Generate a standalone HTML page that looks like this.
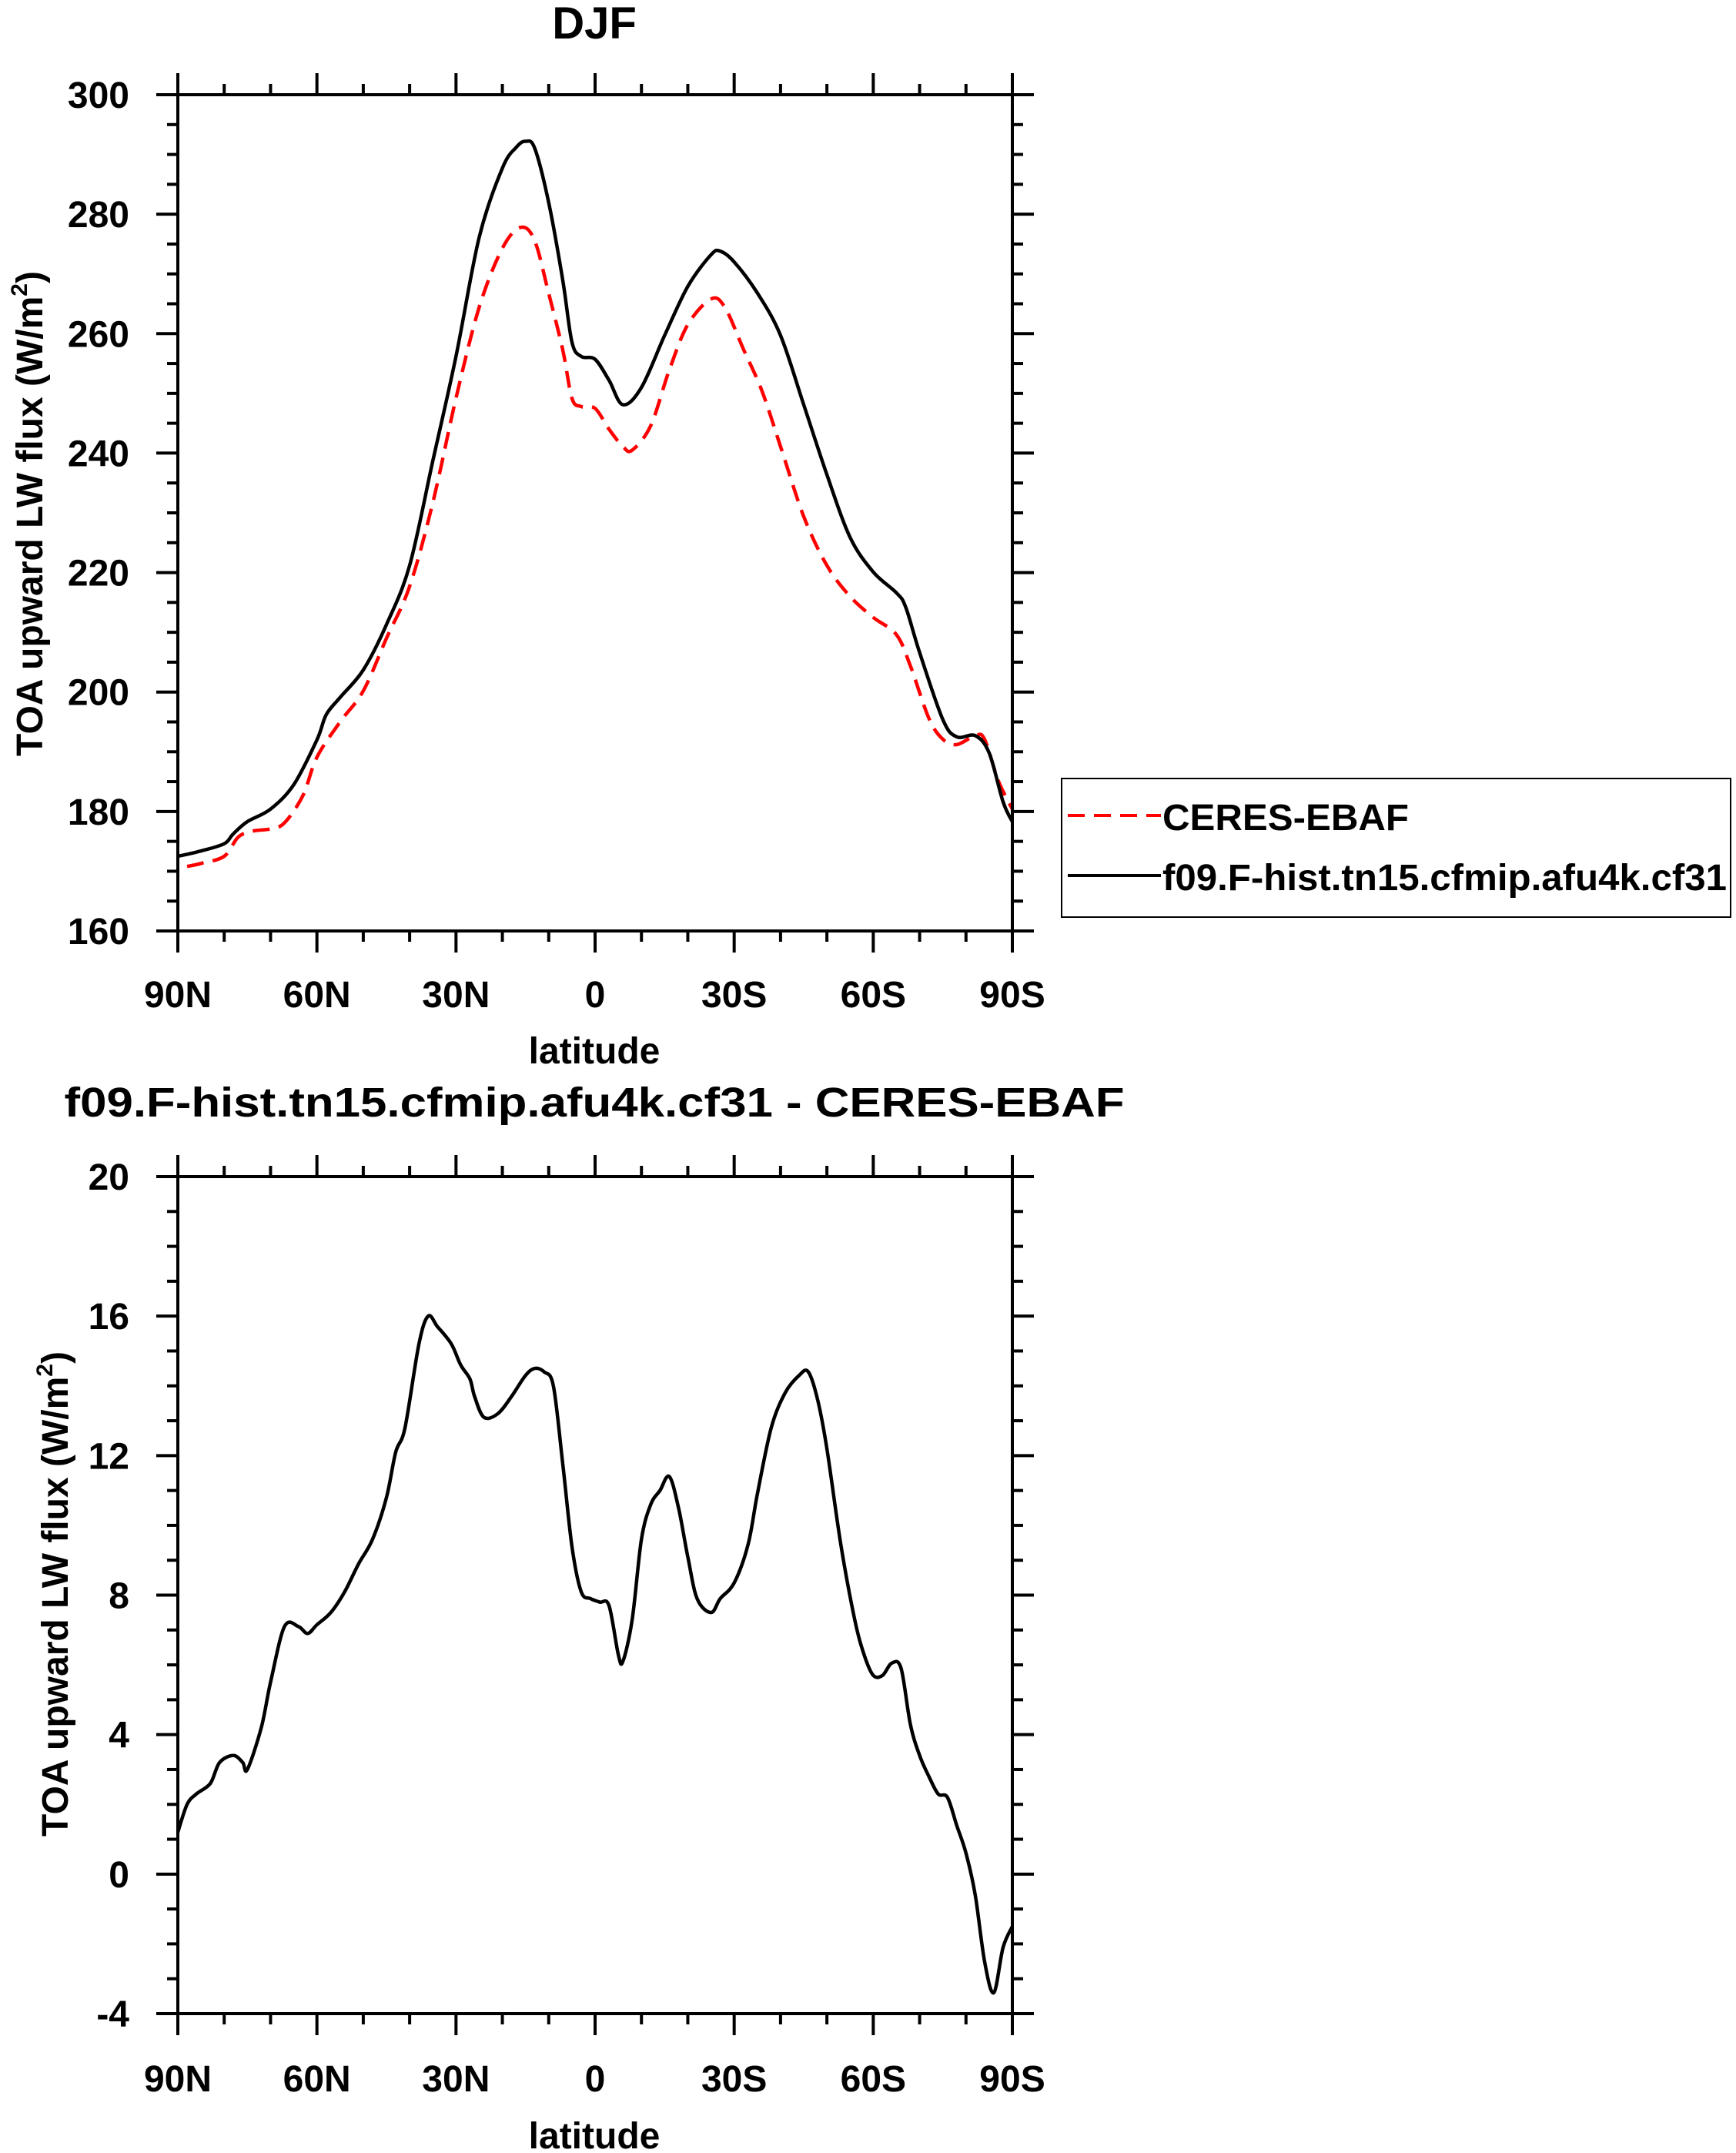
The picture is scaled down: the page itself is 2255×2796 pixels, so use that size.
<!DOCTYPE html>
<html><head><meta charset="utf-8"><style>
html,body{margin:0;padding:0;background:#fff;}
svg{display:block;}
text{font-family:"Liberation Sans",Arial,sans-serif;font-weight:bold;fill:#000;}
</style></head><body>
<svg id="chart" width="2255" height="2796" viewBox="0 0 2255 2796" xmlns="http://www.w3.org/2000/svg">
<text x="772" y="50" font-size="58" text-anchor="middle">DJF</text>
<text x="772" y="1450" font-size="54" text-anchor="middle" textLength="1377" lengthAdjust="spacingAndGlyphs">f09.F-hist.tn15.cfmip.afu4k.cf31 - CERES-EBAF</text>
<g id="top"></g>
<g id="bot"></g>
<g>
<rect x="1379" y="1011" width="869" height="180" fill="#fff" stroke="#000" stroke-width="2"/>
<line x1="1387" y1="1059" x2="1508" y2="1059" stroke="#f00" stroke-width="4" stroke-dasharray="22,12"/>
<text x="1510" y="1078" font-size="48" textLength="320" lengthAdjust="spacingAndGlyphs">CERES-EBAF</text>
<line x1="1387" y1="1137" x2="1508" y2="1137" stroke="#000" stroke-width="4"/>
<text x="1510" y="1156" font-size="48" textLength="733" lengthAdjust="spacingAndGlyphs">f09.F-hist.tn15.cfmip.afu4k.cf31</text>
</g>
</svg>
<script>
const xTickLabels=["90N","60N","30N","0","30S","60S","90S"];
const xTickLats=[90,60,30,0,-30,-60,-90];
const topYTicks=[160,180,200,220,240,260,280,300];
const botYTicks=[-4,0,4,8,12,16,20];
const modelLat=[90,85,80,78,75,70,65,60,58,55,50,45,40,35,30,25,20,17,15,13,10,7,5,3,0,-3,-6,-10,-15,-20,-25,-27,-30,-35,-40,-45,-50,-55,-60,-65,-67,-70,-75,-78,-82,-85,-88,-90];
const modelVal=[172.5,173.4,174.6,176.3,178.3,180.4,184.5,192,196.2,199.1,203.7,211.3,221.2,238.7,256.2,276.1,287.7,291.2,292.2,291,281.9,269.1,258.6,256.2,255.7,252.2,248.1,251,259.7,267.9,273.2,273.8,272,266.8,259.7,248.1,236.4,225.9,220.1,216.6,214.2,206.6,195.4,192.5,192.7,189.8,181.6,178.3];
const ceresLat=[88,85,80,77,74,70,67,63,60,55,50,45,40,35,30,25,20,16,13,10,7,5,3,0,-3,-6,-8,-12,-16,-20,-25,-28,-32,-36,-40,-45,-50,-55,-60,-65,-68,-72,-75,-78,-82,-84,-87,-90];
const ceresVal=[170.8,171.3,172.5,175.7,176.7,177.1,178.1,182.7,189.1,195,200.2,209,217.7,231.7,249.2,264.4,274.3,277.8,275.5,266.7,257.4,249.2,247.8,247.5,244,241.1,240.5,244.6,253.9,261.5,265.8,264.4,257.4,250.4,241.1,229.4,221.2,216,212.5,209.6,204.4,195.6,192.1,191.2,192.7,192.1,185.1,180.4];
const diffLat=[90,88,86,83,81,78,76,75,72,70,67,64,62,60,57,54,51,48,45,43,41,38,36,34,31,29,27,26,24,21,18,15,13,11,9,7,5,3,1,-1,-3,-5,-6,-8,-10,-12,-14,-16,-18,-20,-22,-25,-27,-30,-33,-35,-38,-41,-44,-46,-48,-50,-53,-56,-58,-60,-62,-64,-66,-68,-70,-72,-74,-76,-78,-80,-82,-84,-86,-88,-90];
const diffVal=[1.2,2.0,2.3,2.6,3.2,3.4,3.2,3.0,4.2,5.5,7.1,7.1,6.9,7.15,7.5,8.1,8.9,9.6,10.8,12.1,12.8,15.2,16,15.7,15.2,14.6,14.2,13.7,13.1,13.2,13.7,14.3,14.5,14.4,14,11.8,9.4,8.1,7.9,7.8,7.7,6.3,6.1,7.3,9.6,10.6,11,11.4,10.5,9.1,7.9,7.5,7.9,8.35,9.45,10.9,12.8,13.8,14.3,14.4,13.6,12.2,9.45,7.3,6.3,5.7,5.7,6.05,5.9,4.3,3.4,2.8,2.3,2.2,1.4,0.6,-0.6,-2.5,-3.4,-2.1,-1.5];

const NS="http://www.w3.org/2000/svg";
function mk(tag,attrs,parent){const e=document.createElementNS(NS,tag);for(const k in attrs)e.setAttribute(k,attrs[k]);parent.appendChild(e);return e;}
function smoothPath(p){
  let d='M'+p[0][0].toFixed(1)+','+p[0][1].toFixed(1);
  for(let i=0;i<p.length-1;i++){
    const p0=p[Math.max(0,i-1)],p1=p[i],p2=p[i+1],p3=p[Math.min(p.length-1,i+2)];
    const c1x=p1[0]+(p2[0]-p0[0])/6,c1y=p1[1]+(p2[1]-p0[1])/6;
    const c2x=p2[0]-(p3[0]-p1[0])/6,c2y=p2[1]-(p3[1]-p1[1])/6;
    d+=' C'+c1x.toFixed(1)+','+c1y.toFixed(1)+' '+c2x.toFixed(1)+','+c2y.toFixed(1)+' '+p2[0].toFixed(1)+','+p2[1].toFixed(1);
  }
  return d;
}

function panel(g,top,bottom,ymin,ymax,yticks,minorStep,series,tickBase,latBase,ylabX,ylabY,pfx){
  const L=231,R=1315;
  const X=lat=>L+(90-lat)/180*(R-L);
  const Y=v=>bottom-(v-ymin)/(ymax-ymin)*(bottom-top);
  for(let v=ymin;v<=ymax+1e-9;v+=minorStep){
    const major=yticks.some(t=>Math.abs(t-v)<1e-9);const len=major?28:14;
    let t=mk('line',{x1:L-len,y1:Y(v),x2:L,y2:Y(v),stroke:'#000','stroke-width':4},g);
    
    
    t=mk('line',{x1:R,y1:Y(v),x2:R+len,y2:Y(v),stroke:'#000','stroke-width':4},g);
    
    
  }
  yticks.forEach(v=>{
    const t=mk('text',{x:168,y:Y(v)+17,'font-size':48,'text-anchor':'end'},g);t.textContent=String(v);
    
    
  });
  for(let lat=90;lat>=-90;lat-=10){
    const major=lat%30===0;const len=major?28:14;
    let t=mk('line',{x1:X(lat),y1:bottom,x2:X(lat),y2:bottom+len,stroke:'#000','stroke-width':4},g);
    
    
    t=mk('line',{x1:X(lat),y1:top-len,x2:X(lat),y2:top,stroke:'#000','stroke-width':4},g);
    
    
  }
  xTickLats.forEach((lat,i)=>{
    const t=mk('text',{x:X(lat),y:tickBase,'font-size':48,'text-anchor':'middle'},g);t.textContent=xTickLabels[i];
    
    
  });
  const xl=mk('text',{x:772,y:latBase,'font-size':48,'text-anchor':'middle'},g);xl.textContent='latitude';
  
  
  const yl=mk('text',{x:0,y:0,'font-size':48,'text-anchor':'middle',transform:`translate(${ylabX},${ylabY}) rotate(-90)`},g);
  yl.innerHTML='TOA upward LW flux (W/m<tspan dy="-20" font-size="30">2</tspan><tspan dy="20">)</tspan>';
  
  
  series.forEach(s=>{
    const pts=s.lat.map((la,i)=>[X(la),Y(s.val[i])]);
    const p=mk('path',{d:smoothPath(pts),fill:'none',stroke:s.color,'stroke-width':4.5,'stroke-linejoin':'round'},g);
    if(s.dash)p.setAttribute('stroke-dasharray',s.dash);
    
    
  });
  const fr=mk('rect',{x:L,y:top,width:R-L,height:bottom-top,fill:'none',stroke:'#000','stroke-width':4},g);
  
  
}
panel(document.getElementById('top'),123,1209,160,300,topYTicks,5,[
  {lat:ceresLat,val:ceresVal,color:'#f00',dash:'22,12',name:'ceres-ebaf-line'},
  {lat:modelLat,val:modelVal,color:'#000',name:'model-line'}],1308,1381,55,667,'top-');
panel(document.getElementById('bot'),1528,2615,-4,20,botYTicks,1,[
  {lat:diffLat,val:diffVal,color:'#000',name:'difference-line'}],2716,2790,88,2070,'bottom-');
</script>
</body></html>
